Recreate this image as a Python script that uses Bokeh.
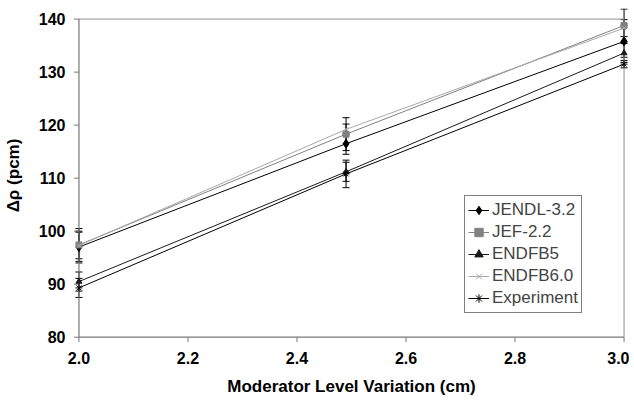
from bokeh.plotting import figure
from bokeh.models import (Range1d, Legend, LegendItem, Whisker, ColumnDataSource,
                          FixedTicker, NumeralTickFormatter, TeeHead)
from bokeh.embed import file_html
from bokeh.resources import INLINE

# ---- data ----
x_vals = [2.0, 2.49, 3.0]
series_names = ["JENDL-3.2", "JEF-2.2", "ENDFB5", "ENDFB6.0", "Experiment"]
jendl = [97.0, 116.5, 135.8]
jef = [97.4, 118.3, 138.8]
endfb5 = [90.5, 111.2, 133.6]
endfb6 = [97.3, 119.2, 138.3]
experiment = [89.3, 110.8, 131.5]
jendl_err = [3.0, 2.0, 3.0]
jef_err = [3.1, 3.1, 3.1]
endfb5_err = [1.8, 1.8, 1.8]
endfb6_err = [2.5, 1.0, 1.6]
experiment_err = [1.8, 2.6, 0.7]
x_ticks = [2.0, 2.2, 2.4, 2.6, 2.8, 3.0]
y_ticks = [80, 90, 100, 110, 120, 130, 140]

# ---- styles ----
colors = ["#000000", "#808080", "#1a1a1a", "#a8a8a8", "#000000"]
markers = ["diamond", "square", "triangle", "x", "asterisk"]
msizes = [9, 6, 6, 6, 7]
values = [jendl, jef, endfb5, endfb6, experiment]
errors = [jendl_err, jef_err, endfb5_err, endfb6_err, experiment_err]
AXIS_COLOR = "#777777"
X_PAD = 0.01      # room left/right of the axes so edge markers are not clipped
Y_PAD_LO = 1.0
Y_PAD_HI = 2.0
TICK_X = 0.0092   # tick length, data units (about 5 px)
TICK_Y = 0.95

x0, x1 = x_ticks[0], x_ticks[-1]
y0, y1 = y_ticks[0], y_ticks[-1]

p = figure(frame_width=556, frame_height=334,
           x_range=Range1d(x0 - X_PAD, x1 + X_PAD),
           y_range=Range1d(y0 - Y_PAD_LO, y1 + Y_PAD_HI),
           output_backend="svg", toolbar_location=None,
           min_border_left=72, min_border_right=0, min_border_top=8, min_border_bottom=61)
p.outline_line_color = None
p.xgrid.visible = False
p.ygrid.visible = False
p.background_fill_color = "white"
p.border_fill_color = "white"

# plot-area border (top and right) in gray
p.segment(x0=[x0, x1], y0=[y1, y0], x1=[x1, x1], y1=[y1, y1],
          line_color="#909090", line_width=1)
# axis lines and outward ticks
p.segment(x0=[x0, x0], y0=[y0, y0], x1=[x1, x0], y1=[y0, y1],
          line_color=AXIS_COLOR, line_width=1.2)
p.segment(x0=[x0 - TICK_X] * len(y_ticks), y0=y_ticks, x1=[x0] * len(y_ticks), y1=y_ticks,
          line_color=AXIS_COLOR, line_width=1)
p.segment(x0=x_ticks, y0=[y0 - TICK_Y] * len(x_ticks), x1=x_ticks, y1=[y0] * len(x_ticks),
          line_color=AXIS_COLOR, line_width=1)

items = []
for name, ys, errs, c, m, s in zip(series_names, values, errors, colors, markers, msizes):
    src = ColumnDataSource(dict(x=x_vals, y=ys,
                                lo=[v - e for v, e in zip(ys, errs)],
                                hi=[v + e for v, e in zip(ys, errs)]))
    w = Whisker(source=src, base="x", upper="hi", lower="lo", line_color="#000000", line_width=1,
                upper_head=TeeHead(size=7, line_color="#000000", line_width=1),
                lower_head=TeeHead(size=7, line_color="#000000", line_width=1))
    p.add_layout(w)
    lr = p.line("x", "y", source=src, line_color=c, line_width=1)
    sr = p.scatter("x", "y", source=src, marker=m, size=s, line_color=c, fill_color=c, line_width=1)
    items.append(LegendItem(label=name, renderers=[lr, sr]))

legend = Legend(items=items, location=(391, 29), orientation="vertical",
                label_text_font="Liberation Sans", label_text_font_size="17px",
                label_height=22, glyph_height=22, glyph_width=21, spacing=0, padding=3,
                label_standoff=3, border_line_color="#000000", border_line_width=1,
                background_fill_color="white", background_fill_alpha=1, margin=0)
p.add_layout(legend)

for ax in (p.xaxis[0], p.yaxis[0]):
    ax.axis_line_color = None
    ax.major_tick_line_color = None
    ax.major_tick_in = 0
    ax.major_tick_out = 0
    ax.minor_tick_line_color = None
    ax.major_label_text_font = "Liberation Sans"
    ax.major_label_text_font_style = "bold"
    ax.major_label_text_font_size = "16px"
    ax.major_label_text_color = "#000000"
    ax.axis_label_text_font = "Liberation Sans"
    ax.axis_label_text_font_style = "bold"
    ax.axis_label_text_font_size = "17px"
    ax.axis_label_text_color = "#000000"

p.xaxis.ticker = FixedTicker(ticks=x_ticks)
p.yaxis.ticker = FixedTicker(ticks=y_ticks)
p.xaxis.formatter = NumeralTickFormatter(format="0.0")
p.xaxis.axis_label = "Moderator Level Variation (cm)"
p.yaxis.axis_label = "Δρ (pcm)"
p.xaxis.major_label_standoff = 9
p.yaxis.major_label_standoff = 8
p.xaxis.axis_label_standoff = 10
p.yaxis.axis_label_standoff = 13

open("out.html", "w").write(file_html(p, INLINE))
